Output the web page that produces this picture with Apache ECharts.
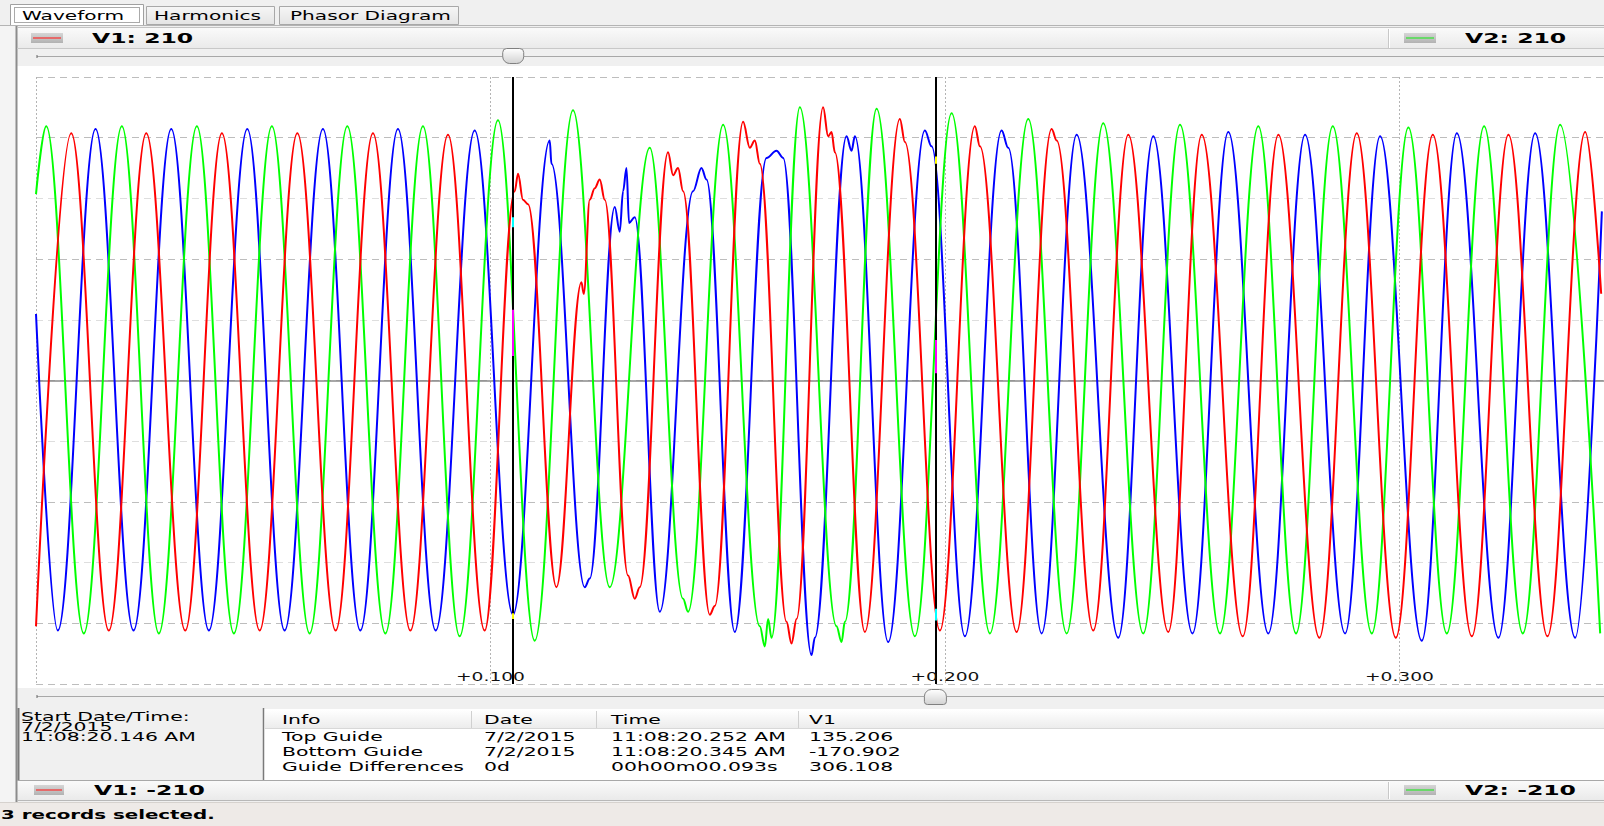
<!DOCTYPE html>
<html><head><meta charset="utf-8">
<script src="https://cdn.jsdelivr.net/npm/echarts@6/dist/echarts.min.js"></script>
<style>html,body{margin:0;padding:0;background:#f0f0f0;overflow:hidden}#c{width:1604px;height:826px}</style>
</head><body><div id="c"></div>
<script>
// ---------- data (time in s from record start, volts) ----------
const v1Time = [0,0.00775,0.01602,0.02426,0.03284,0.04090,0.04920,0.05750,0.06593,0.07414,0.08237,0.09065,0.09872,0.10533,0.10606,0.10715,0.10826,0.11451,0.12001,0.12052,0.12184,0.12294,0.12404,0.12514,0.13027,0.13174,0.13284,0.13907,0.14017,0.14127,0.14237,0.14825,0.14935,0.15558,0.15706,0.15816,0.15926,0.16514,0.16623,0.16734,0.17319,0.17429,0.17504,0.17576,0.18237,0.19008,0.19117,0.19888,0.20658,0.20768,0.21576,0.22347,0.22457,0.23262,0.24033,0.24913,0.25649,0.26551,0.27335,0.28237,0.29060,0.29919,0.30733,0.31592,0.32397,0.33256,0.34086,0.34438];
const v1Volt = [-170,171,-173,171,-173,171,-173,171,-173,171,-173,170,-173,131,143,125,122,-143,68,60,125,133,139,125,-135,-151,-143,158,142,147,131,-162,-156,179,161,166,150,-167,-182,-165,189,169,172,158,-174,181,165,-173,176,162,-174,174,166,-173,170,-174,170,-177,170,-178,171,-178,170,-177,170,-177,172,60];

const v2Time = [0,0.00225,0.01052,0.01889,0.02703,0.03540,0.04354,0.05190,0.06020,0.06850,0.07687,0.08514,0.09322,0.10165,0.10973,0.11816,0.12624,0.13504,0.14237,0.14347,0.15118,0.15926,0.16036,0.16108,0.16183,0.16806,0.17614,0.17724,0.17797,0.18495,0.19338,0.20146,0.20989,0.21832,0.22677,0.23482,0.24363,0.25171,0.26051,0.26894,0.27724,0.28532,0.29391,0.30196,0.31042,0.31862,0.32714,0.33535,0.34416];
const v2Volt = [129,176,-175,176,-175,176,-175,176,-175,176,-175,176,-177,180,-180,187,-143,161,-151,-160,177,-170,-184,-165,-178,189,-170,-181,-167,188,-177,185,-175,181,-175,178,-175,177,-175,176,-175,176,-175,175,-175,176,-175,177,-175];

const v3Time = [0,0.00480,0.01310,0.02146,0.02976,0.03804,0.04649,0.05470,0.06313,0.07136,0.07964,0.08794,0.09652,0.10495,0.11303,0.11341,0.12074,0.12184,0.12734,0.12844,0.12917,0.12992,0.13049,0.13174,0.13725,0.14457,0.14642,0.14752,0.15375,0.16073,0.16293,0.16439,0.17064,0.17136,0.17834,0.17944,0.18017,0.18750,0.19558,0.19705,0.20438,0.21246,0.21392,0.22126,0.22897,0.23813,0.24583,0.25446,0.26234,0.27115,0.27923,0.28803,0.29573,0.30491,0.31262,0.32177,0.32985,0.33866,0.34453];
const v3Volt = [46,-173,174,-173,174,-173,174,-173,174,-173,174,-173,173,-162,166,150,-143,-137,120,103,131,147,109,113,-160,131,147,139,-174,154,159,154,-190,-178,169,159,169,-181,173,162,-177,173,161,-175,170,-178,169,-175,172,-175,170,-175,169,-180,171,-178,171,-178,117];

const guideTimes = [0.105, 0.198];          // Top guide, Bottom guide
const xTickValues = [0.1, 0.2, 0.3];
const xTickLabels = ['+0.100', '+0.200', '+0.300'];
const yRange = [-210, 210];
const tabNames = ['Waveform', 'Harmonics', 'Phasor Diagram'];
const scaleLabels = {topLeft: 'V1: 210', topRight: 'V2: 210', bottomLeft: 'V1: -210', bottomRight: 'V2: -210'};
const startInfo = ['Start Date/Time:', '7/2/2015', '11:08:20.146 AM'];
const tableHeader = ['Info', 'Date', 'Time', 'V1'];
const infoRows = ['Top Guide', 'Bottom Guide', 'Guide Differences'];
const infoDates = ['7/2/2015', '7/2/2015', '0d'];
const infoTimes = ['11:08:20.252 AM', '11:08:20.345 AM', '00h00m00.093s'];
const infoV1 = ['135.206', '-170.902', '306.108'];
const statusText = '3 records selected.';

// ---------- helpers ----------
const FONT = '"DejaVu Sans", "Liberation Sans", sans-serif';
const mctx = document.createElement('canvas').getContext('2d');
function tw(str, size, weight) { mctx.font = (weight || 'normal') + ' ' + size + 'px ' + FONT; return mctx.measureText(str).width; }
function T(str, x, y, size, weight, sx, color, align) {
  const w = tw(str, size, weight) * sx;
  let left = x;
  if (align === 'center') left = x - w / 2; else if (align === 'right') left = x - w;
  return {type: 'text', x: left, y: y, scaleX: sx, z: 50, silent: true,
    style: {text: str, fill: color || '#000', font: (weight || 'normal') + ' ' + size + 'px ' + FONT, textAlign: 'left', textVerticalAlign: 'middle'}};
}
function grad(c1, c2) { return {type: 'linear', x: 0, y: 0, x2: 0, y2: 1, colorStops: [{offset: 0, color: c1}, {offset: 1, color: c2}]}; }
function R(x, y, w, h, fill, stroke, z, r) {
  return {type: 'rect', silent: true, z: z == null ? -8 : z, shape: {x: x, y: y, width: w, height: h, r: r || 0},
    style: {fill: fill, stroke: stroke || null, lineWidth: 1}};
}
function L(x1, y1, x2, y2, color, w, dash, z) {
  return {type: 'line', silent: true, z: z == null ? -6 : z, shape: {x1: x1, y1: y1, x2: x2, y2: y2},
    style: {stroke: color, lineWidth: w || 1, lineDash: dash || null}};
}

function series(name, times, volts, color, z, extra) {
  return Object.assign({
    type: 'line', name: name, data: times.map((t, i) => [t, volts[i]]),
    showSymbol: false, symbol: 'none', smooth: 0.36, smoothMonotone: 'x',
    lineStyle: {color: color, width: 2}, itemStyle: {color: color},
    z: z, silent: true, animation: false, clip: true
  }, extra || {});
}

const xorSeg = (t, a, b, c) => [{coord: [t, a], lineStyle: {color: c, width: 2}}, {coord: [t, b], lineStyle: {color: c, width: 2}}];

const yColors = ['#bdbdbd','#bdbdbd','#dedede','#bdbdbd','#dedede','#bdbdbd','#dedede','#bdbdbd','#dedede','#bdbdbd','#bdbdbd'];

const chart = echarts.init(document.getElementById('c'), null, {renderer: 'svg', width: 1604, height: 826});
chart.setOption({
  animation: false,
  backgroundColor: '#f0f0f0',
  grid: {left: 36, right: 0, top: 77, bottom: 142, show: true, backgroundColor: '#ffffff', borderWidth: 0, containLabel: false},
  xAxis: {type: 'value', min: 0, max: 0.345, interval: 0.1,
    axisLine: {show: true, onZero: true, lineStyle: {color: '#8a8a8a', width: 1.5}},
    axisTick: {show: false}, axisLabel: {show: false},
    splitLine: {show: true, lineStyle: {type: [2, 2], color: '#b4b4b4', width: 1}}},
  yAxis: {type: 'value', min: yRange[0], max: yRange[1], interval: 42,
    axisLine: {show: false}, axisTick: {show: false}, axisLabel: {show: false},
    splitLine: {show: true, lineStyle: {type: [7, 5], color: yColors, width: 1}}},
  series: [
    series('V3', v3Time, v3Volt, '#0000ff', 2),
    series('V2', v2Time, v2Volt, '#00ff00', 3),
    series('V1', v1Time, v1Volt, '#ff0000', 4, {
      markLine: {silent: true, symbol: ['none', 'none'], animation: false, z: 6, precision: 5,
        label: {show: false}, emphasis: {disabled: true},
        lineStyle: {color: '#000000', width: 2, type: 'solid'},
        data: [
          {xAxis: guideTimes[0]}, {xAxis: guideTimes[1]},
          xorSeg(guideTimes[0], 106, 113, '#00ffff'),
          xorSeg(guideTimes[0], 17, 49, '#ff00ff'),
          xorSeg(guideTimes[0], -161, -165, '#ffff00'),
          xorSeg(guideTimes[1], 150, 155, '#ffff00'),
          xorSeg(guideTimes[1], 5, 28, '#ff00ff'),
          xorSeg(guideTimes[1], -158, -166, '#00ffff')
        ]}
    })
  ]
});

// ---------- window chrome drawn with the graphic component ----------
const sxTab = 161 / tw('Phasor Diagram', 13, 'normal');
const sxHdr = 111 / tw('V1: -210', 14, 'bold');
const sxTbl = 175 / tw('11:08:20.252 AM', 12, 'normal');
const sxAx = 69 / tw('+0.100', 13, 'normal');
const sxSt = 214 / tw(statusText, 12, 'bold');

const px = t => chart.convertToPixel({xAxisIndex: 0}, t);
const G = [];
// tabs
G.push(L(0, 25.5, 1604, 25.5, '#b4b4b4', 1));
G.push(R(146.5, 6.5, 128, 18, grad('#f6f6f6', '#e4e4e4'), '#a8a8a8'));
G.push(R(279.5, 6.5, 179, 18, grad('#f6f6f6', '#e4e4e4'), '#a8a8a8'));
G.push(R(10.5, 4.5, 133, 21, '#ffffff', '#a0a0a0', -7));
G.push({type: 'rect', silent: true, z: -5, shape: {x: 14.5, y: 7.5, width: 125, height: 15}, style: {fill: null, stroke: '#555', lineWidth: 1, lineDash: [1, 1]}});
const tabLefts = [22, 154, 290];
tabNames.forEach((n, i) => G.push(T(n, tabLefts[i], 15, 13, 'normal', sxTab, '#000')));
// panel border
G.push(R(0, 26, 16, 776, '#f4f4f4', null, -9));
G.push(L(16.5, 26, 16.5, 802, '#8c8c8c', 2));
// top scale header
G.push(R(17, 27, 1587, 22, grad('#fbfbfb', '#e9e9e9'), null));
G.push(L(17, 27.5, 1604, 27.5, '#c4c4c4', 1));
G.push(L(17, 48.5, 1604, 48.5, '#c8c8c8', 1));
G.push(L(1388.5, 29, 1388.5, 48, '#c8c8c8', 1));
G.push(L(1389.5, 29, 1389.5, 48, '#ffffff', 1));
G.push(R(31, 33, 32, 10, grad('#d6d6d6', '#b2b2b2'), null, -5));
G.push(L(33, 38, 61, 38, '#e56a6a', 2, null, -4));
G.push(R(1404, 33, 32, 10, grad('#d6d6d6', '#b2b2b2'), null, -5));
G.push(L(1406, 38, 1434, 38, '#6ad86a', 2, null, -4));
G.push(T(scaleLabels.topLeft, 92, 38, 14, 'bold', sxHdr, '#000'));
G.push(T(scaleLabels.topRight, 1465, 38, 14, 'bold', sxHdr, '#000'));
// top slider
G.push(R(17, 49, 1587, 17, '#f0f0f0', null));
G.push(L(37, 56.5, 1604, 56.5, '#a8a8a8', 1));
G.push(L(37, 55, 37, 58, '#666', 1));
const tx0 = px(guideTimes[0]);
G.push({type: 'rect', silent: true, z: -3, shape: {x: tx0 - 10.5, y: 48.5, width: 21, height: 15, r: [4, 4, 7, 7]},
  style: {fill: grad('#ffffff', '#d2d2d2'), stroke: '#808080', lineWidth: 1}});
// white chart panel
G.push(R(17, 66, 1587, 622, '#ffffff', null, -9));
// bottom slider
G.push(R(17, 688, 1587, 20, '#f0f0f0', null));
G.push(L(37, 696.5, 1604, 696.5, '#a8a8a8', 1));
G.push(L(37, 695, 37, 698, '#666', 1));
const tx1 = px(guideTimes[1]);
G.push({type: 'rect', silent: true, z: -3, shape: {x: tx1 - 11.5, y: 689.5, width: 22, height: 15, r: [7, 7, 3, 3]},
  style: {fill: grad('#ffffff', '#d2d2d2'), stroke: '#808080', lineWidth: 1}});
// x tick labels (positions from the axis scale)
xTickValues.forEach((v, i) => G.push(T(xTickLabels[i], px(v), 677, 13, 'normal', sxAx, '#111', 'center')));
// info area
G.push(R(17, 708, 247, 72, '#f0f0f0', null));
G.push(L(18.5, 708, 18.5, 780, '#7a7a7a', 2));
const leftY = [717, 727, 737];
startInfo.forEach((s, i) => G.push(T(s, 21, leftY[i], 12, 'normal', sxTbl, '#000')));
G.push(R(264, 709, 1340, 71, '#ffffff', null));
G.push(L(263.5, 708, 263.5, 780, '#7a7a7a', 1.5));
G.push(R(265, 710, 1339, 18, grad('#ffffff', '#ececec'), null, -7));
G.push(L(265, 728.5, 1604, 728.5, '#d8d8d8', 1, null, -5));
[471.5, 596.5, 798.5].forEach(x => G.push(L(x, 711, x, 728, '#d0d0d0', 1, null, -5)));
const colX = [282, 484, 611, 809];
tableHeader.forEach((h, i) => G.push(T(h, colX[i], 720, 12, 'normal', sxTbl, '#000')));
const rowY = [737, 752, 767];
infoRows.forEach((r, i) => {
  G.push(T(r, colX[0], rowY[i], 12, 'normal', sxTbl, '#000'));
  G.push(T(infoDates[i], colX[1], rowY[i], 12, 'normal', sxTbl, '#000'));
  G.push(T(infoTimes[i], colX[2], rowY[i], 12, 'normal', sxTbl, '#000'));
  G.push(T(infoV1[i], colX[3], rowY[i], 12, 'normal', sxTbl, '#000'));
});
// bottom scale header
G.push(R(17, 780, 1587, 21, grad('#fbfbfb', '#e9e9e9'), null));
G.push(L(17, 780.5, 1604, 780.5, '#a8a8a8', 1));
G.push(L(17, 800.5, 1604, 800.5, '#b8b8b8', 1));
G.push(L(1388.5, 782, 1388.5, 799, '#c8c8c8', 1));
G.push(L(1389.5, 782, 1389.5, 799, '#ffffff', 1));
G.push(R(34, 785, 30, 10, grad('#d6d6d6', '#b2b2b2'), null, -5));
G.push(L(36, 790, 62, 790, '#e56a6a', 2, null, -4));
G.push(R(1404, 785, 32, 10, grad('#d6d6d6', '#b2b2b2'), null, -5));
G.push(L(1406, 790, 1434, 790, '#6ad86a', 2, null, -4));
G.push(T(scaleLabels.bottomLeft, 94, 790, 14, 'bold', sxHdr, '#000'));
G.push(T(scaleLabels.bottomRight, 1465, 790, 14, 'bold', sxHdr, '#000'));
// status bar
G.push(R(0, 802, 1604, 24, '#eeeae7', null));
G.push(L(0, 802.5, 1604, 802.5, '#d6d2ce', 1));
G.push(T(statusText, 1, 815, 12, 'bold', sxSt, '#000'));

chart.setOption({graphic: {elements: G}});
</script>
</body></html>
